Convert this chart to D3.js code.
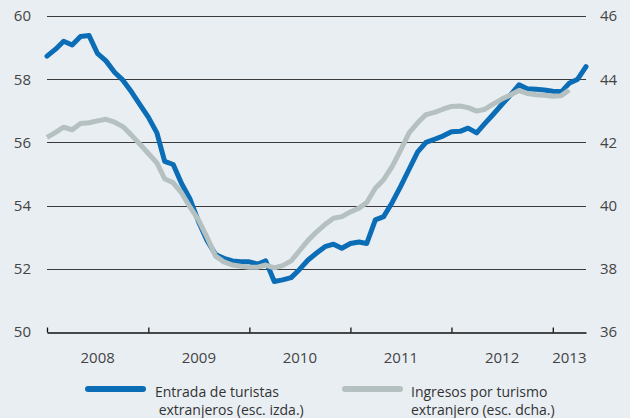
<!DOCTYPE html>
<html>
<head>
<meta charset="utf-8">
<script src="https://cdn.jsdelivr.net/npm/d3@7"></script>
<style>
  body { margin: 0; background: #e9eef3; }
  svg { display: block; font-family: 'Open Sans', sans-serif; }
  .tickLabel { fill: #444; font-size: 15px; }
  .legendText { fill: #333; font-size: 14px; }
</style>
</head>
<body>
<svg width="630" height="418"></svg>
<script>
// monthly, Jan 2008 onward
const months = d3.timeMonth.range(new Date(2008, 0, 1), new Date(2013, 5, 1))

// entrada de turistas extranjeros (esc. izda.)
const turistas = [
  58.73, 58.95, 59.2, 59.08, 59.35, 59.38, 58.82, 58.58, 58.22, 57.97, 57.6, 57.2,
  56.8, 56.3, 55.4, 55.3, 54.7, 54.2, 53.5, 52.9, 52.45, 52.33, 52.25, 52.22,
  52.22, 52.15, 52.25, 51.6, 51.65, 51.72, 51.98, 52.28, 52.5, 52.7, 52.78, 52.65,
  52.8, 52.85, 52.8, 53.55, 53.65, 54.1, 54.6, 55.15, 55.7, 56.0, 56.1, 56.2,
  56.34, 56.35, 56.45, 56.3, 56.6, 56.9, 57.2, 57.5, 57.82, 57.7, 57.68, 57.66,
  57.62, 57.6, 57.87, 58.0, 58.4
]

// ingresos por turismo extranjero (esc. dcha.)
const ingresos = [
  42.16, 42.32, 42.48, 42.4, 42.6, 42.62, 42.68, 42.73, 42.64, 42.5, 42.23, 41.95,
  41.65, 41.35, 40.85, 40.72, 40.4, 39.95, 39.55, 39.0, 38.4, 38.22, 38.12, 38.08,
  38.05, 38.05, 38.12, 38.03, 38.1, 38.25, 38.57, 38.9, 39.17, 39.4, 39.6, 39.65,
  39.8, 39.92, 40.1, 40.55, 40.82, 41.24, 41.75, 42.3, 42.62, 42.88, 42.95, 43.05,
  43.14, 43.15, 43.1, 42.99, 43.05, 43.22, 43.37, 43.5, 43.64, 43.55, 43.51, 43.49,
  43.46, 43.48, 43.66
]

const leftTicks = [50, 52, 54, 56, 58, 60]
const rightTicks = [36, 38, 40, 42, 44, 46]
const years = [2008, 2009, 2010, 2011, 2012, 2013]
const legendLabels = [
  ['Entrada de turistas', ' extranjeros (esc. izda.)'],
  ['Ingresos por turismo', 'extranjero (esc. dcha.)']
]

const svg = d3.select('svg')
const margin = { top: 16, right: 44, bottom: 86, left: 47 }
const width = +svg.attr('width')
const height = +svg.attr('height')
const innerWidth = width - margin.left - margin.right
const innerHeight = height - margin.top - margin.bottom

const blue = '#0a6db5'
const grey = '#b5c0c0'

const xScale = d3.scaleTime()
  .domain([months[0], months[months.length - 1]])
  .range([0, innerWidth])

const yLeft = d3.scaleLinear().domain([50, 60]).range([innerHeight, 0])
const yRight = d3.scaleLinear().domain([36, 46]).range([innerHeight, 0])

const g = svg.append('g')
  .attr('transform', `translate(${margin.left}, ${margin.top})`)

// gridlines
g.selectAll('.grid')
  .data(leftTicks.slice(1))
  .enter()
  .append('line')
  .attr('class', 'grid')
  .attr('x1', 0)
  .attr('x2', innerWidth)
  .attr('y1', d => Math.round(yLeft(d)) + 0.5)
  .attr('y2', d => Math.round(yLeft(d)) + 0.5)
  .style('stroke', '#3a3a3a')
  .style('stroke-width', 1)

// left / right tick labels
g.selectAll('.leftLabel')
  .data(leftTicks)
  .enter()
  .append('text')
  .attr('class', 'tickLabel')
  .attr('x', -16)
  .attr('y', d => yLeft(d))
  .attr('dy', '0.36em')
  .attr('text-anchor', 'end')
  .text(d => d)

g.selectAll('.rightLabel')
  .data(rightTicks)
  .enter()
  .append('text')
  .attr('class', 'tickLabel')
  .attr('x', innerWidth + 14)
  .attr('y', d => yRight(d))
  .attr('dy', '0.36em')
  .attr('text-anchor', 'start')
  .text(d => d)

// x axis, ticks pointing up
const xAxis = d3.axisBottom(xScale)
  .ticks(d3.timeYear.every(1))
  .tickSize(-5)
  .tickSizeOuter(0)
  .tickFormat('')

const xAxisG = g.append('g')
  .attr('transform', `translate(0, ${innerHeight + 0.5})`)
  .call(xAxis)
xAxisG.selectAll('path, line')
  .style('stroke', '#111')
  .style('stroke-width', 1.3)

const end = months[months.length - 1]
g.selectAll('.yearLabel')
  .data(years)
  .enter()
  .append('text')
  .attr('class', 'tickLabel')
  .attr('text-anchor', 'middle')
  .attr('x', d => {
    const a = new Date(d, 0, 1)
    const b = d3.min([new Date(d + 1, 0, 1), end])
    return (xScale(a) + xScale(b)) / 2
  })
  .attr('y', innerHeight + 31)
  .text(d => d)

// lines
const lineLeft = d3.line()
  .x((d, i) => xScale(months[i]))
  .y(d => yLeft(d))
const lineRight = d3.line()
  .x((d, i) => xScale(months[i]))
  .y(d => yRight(d))

g.append('path')
  .datum(turistas)
  .attr('d', lineLeft)
  .style('fill', 'none')
  .style('stroke', blue)
  .style('stroke-width', 5)
  .style('stroke-linejoin', 'round')
  .style('stroke-linecap', 'round')

g.append('path')
  .datum(ingresos)
  .attr('d', lineRight)
  .style('fill', 'none')
  .style('stroke', grey)
  .style('stroke-width', 5)
  .style('stroke-linejoin', 'round')
  .style('stroke-linecap', 'butt')

// legend
const legend = svg.append('g')
const items = [
  { x: 88, color: blue, lines: legendLabels[0] },
  { x: 345, color: grey, lines: legendLabels[1] }
]
const item = legend.selectAll('g')
  .data(items)
  .enter()
  .append('g')
  .attr('transform', d => `translate(${d.x}, 389)`)

item.append('line')
  .attr('x1', 0)
  .attr('x2', 55)
  .style('stroke', d => d.color)
  .style('stroke-width', 6)
  .style('stroke-linecap', 'round')

item.append('text')
  .attr('class', 'legendText')
  .attr('x', (d, i) => i === 0 ? 67 : 66)
  .attr('y', 8)
  .style('white-space', 'pre')
  .selectAll('tspan')
  .data(d => d.lines)
  .enter()
  .append('tspan')
  .attr('x', function() { return d3.select(this.parentNode).attr('x') })
  .attr('dy', (d, i) => i === 0 ? 0 : 17.5)
  .text(d => d)
</script>
</body>
</html>
